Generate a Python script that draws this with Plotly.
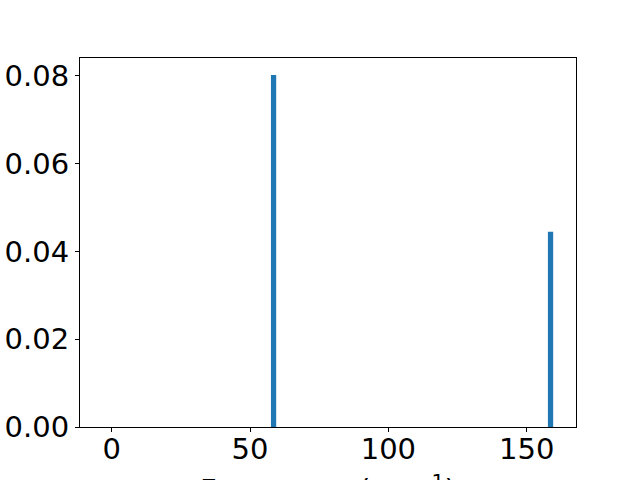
import plotly.graph_objects as go

freq = [58.5, 158.6]
intensity = [0.0802, 0.0445]
bar_width = 1.9
x_ticks = [0, 50, 100, 150]
y_ticks = [0.00, 0.02, 0.04, 0.06, 0.08]
y_tick_labels = ["0.00", "0.02", "0.04", "0.06", "0.08"]
x_label = "Frequency (cm<sup>−1</sup>)"

fig = go.Figure()
fig.add_trace(go.Bar(x=freq, y=intensity, width=bar_width,
                     marker=dict(color="#1f77b4", line=dict(width=0))))

font = dict(family="DejaVu Sans", size=29, color="black")
fig.update_layout(
    width=640, height=480,
    margin=dict(l=80, r=64, t=58, b=53, autoexpand=False),
    plot_bgcolor="white", paper_bgcolor="white",
    showlegend=False, font=font,
    xaxis=dict(range=[-11.45, 167.8], tickvals=x_ticks, ticks="outside", ticklen=4,
               tickcolor="black", showline=True, linecolor="black", linewidth=1,
               mirror=True, showgrid=False, zeroline=False, tickfont=font,
               ticklabelstandoff=-8),
    yaxis=dict(range=[0, 0.0841], tickvals=y_ticks, ticktext=y_tick_labels,
               ticks="outside", ticklen=4, tickcolor="black", showline=True,
               linecolor="black", linewidth=1, mirror=True, showgrid=False,
               zeroline=False, tickfont=font),
    annotations=[dict(text=x_label, xref="paper", yref="paper", x=0.5, y=-0.165,
                      xanchor="center", yanchor="middle", showarrow=False, font=font)],
)
fig.write_html("out.html", config={"displayModeBar": False},
               post_script="document.body.style.margin='0';document.body.style.overflow='hidden';")
